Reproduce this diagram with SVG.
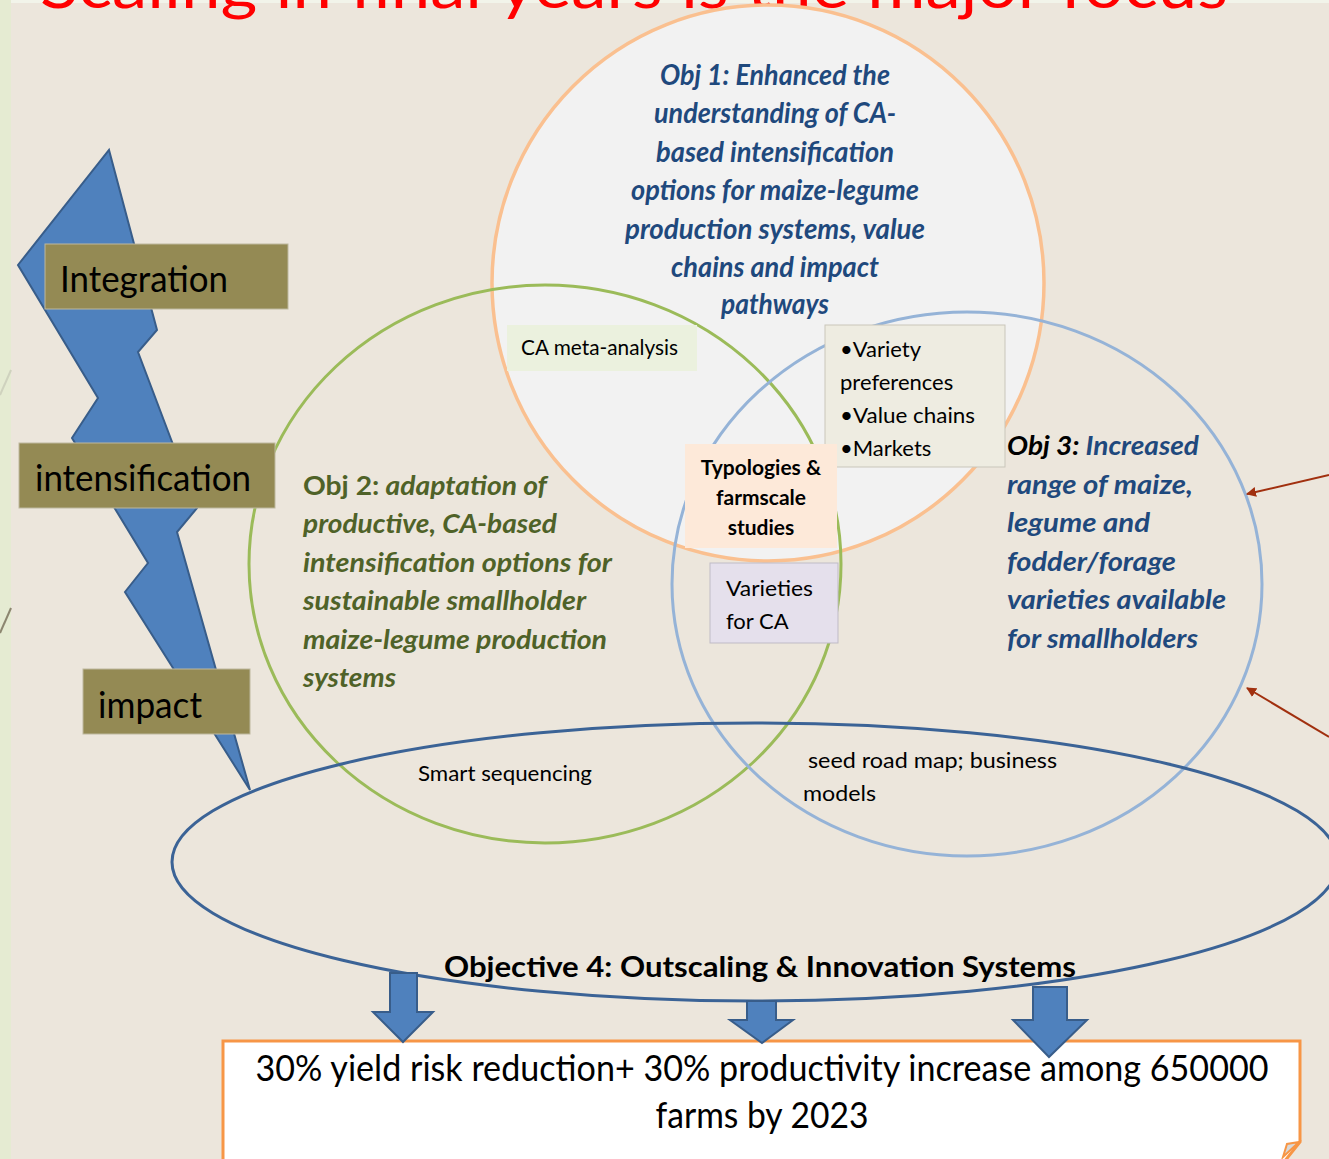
<svg xmlns="http://www.w3.org/2000/svg" width="1329" height="1159" viewBox="0 0 1329 1159">
  <style>
    .sans { font-family: Lato, "Open Sans", "Liberation Sans", sans-serif; }
    .tag { fill: #948A54; stroke: #BDB89E; stroke-width: 1; }
    .tagtxt { font-size: 36px; fill: #000; }
    .obj1 { font-size: 28px; font-weight: bold; font-style: italic; fill: #1F497D; }
    .obj2 { font-size: 27px; font-weight: bold; font-style: italic; fill: #4F6228; }
    .obj3 { font-size: 27px; font-weight: bold; font-style: italic; fill: #1F497D; }
    .small { font-size: 22px; fill: #000; }
    .blk { fill: #4F81BD; stroke: #385D8A; stroke-width: 2; stroke-linejoin: miter; }
    .red { stroke: #A1300F; stroke-width: 2; fill: none; }
  </style>
  <defs>
    <marker id="redhead" markerWidth="10" markerHeight="10" refX="9" refY="5" orient="auto" markerUnits="userSpaceOnUse" viewBox="0 0 10 10">
      <path d="M0,0 L10,5 L0,10 Z" fill="#A1300F"/>
    </marker>
  </defs>

  <!-- backdrop -->
  <rect x="0" y="0" width="1329" height="1159" fill="#ECE6DC"/>
  <rect x="0" y="0" width="1329" height="3" fill="#F2F4EA"/>
  <rect x="0" y="0" width="11" height="1159" fill="#E5EBD2"/>
  <line x1="0" y1="395" x2="11" y2="370" stroke="#CFD2BE" stroke-width="2"/>
  <line x1="0" y1="633" x2="11" y2="608" stroke="#8C8670" stroke-width="2"/>

  <!-- slide title, partly above the frame -->
  <text class="sans" x="40" y="8" font-size="62" fill="#FF0000" textLength="1188" lengthAdjust="spacingAndGlyphs">Scaling in final years is the major focus</text>

  <!-- lightning bolt -->
  <g id="bolt">
    <polygon class="blk" points="109,150 157,330 138,352 197,508 177,532 250,790 173,668 125,592 148,563 72,438 98,398 18,265"/>
  </g>

  <!-- objective 1 circle -->
  <g id="obj1">
    <ellipse cx="768" cy="283" rx="276" ry="278" fill="#F2F2F2" stroke="#FAC090" stroke-width="3.5"/>
    <g class="sans obj1" text-anchor="middle">
      <text x="775" y="85" textLength="230" lengthAdjust="spacingAndGlyphs">Obj 1: Enhanced the</text>
      <text x="775" y="123" textLength="242" lengthAdjust="spacingAndGlyphs">understanding of CA-</text>
      <text x="775" y="162" textLength="238" lengthAdjust="spacingAndGlyphs">based intensification</text>
      <text x="775" y="200" textLength="288" lengthAdjust="spacingAndGlyphs">options for maize-legume</text>
      <text x="775" y="239" textLength="300" lengthAdjust="spacingAndGlyphs">production systems, value</text>
      <text x="775" y="277" textLength="208" lengthAdjust="spacingAndGlyphs">chains and impact</text>
      <text x="775" y="314" textLength="108" lengthAdjust="spacingAndGlyphs">pathways</text>
    </g>
  </g>

  <!-- objective 2 circle -->
  <g id="obj2">
    <ellipse cx="545" cy="564" rx="296" ry="279" fill="none" stroke="#9BBB59" stroke-width="3"/>
    <g class="sans obj2">
      <text x="303" y="495" textLength="244" lengthAdjust="spacingAndGlyphs"><tspan font-style="normal">Obj 2:</tspan> adaptation of</text>
      <text x="303" y="533" textLength="254" lengthAdjust="spacingAndGlyphs">productive, CA-based</text>
      <text x="303" y="572" textLength="309" lengthAdjust="spacingAndGlyphs">intensification options for</text>
      <text x="303" y="610" textLength="283" lengthAdjust="spacingAndGlyphs">sustainable smallholder</text>
      <text x="303" y="649" textLength="304" lengthAdjust="spacingAndGlyphs">maize-legume production</text>
      <text x="303" y="687" textLength="93" lengthAdjust="spacingAndGlyphs">systems</text>
    </g>
  </g>

  <!-- objective 3 circle -->
  <g id="obj3">
    <ellipse cx="967" cy="584" rx="295" ry="272" fill="none" stroke="#95B3D7" stroke-width="3"/>
    <g class="sans obj3">
      <text x="1007" y="455" textLength="192" lengthAdjust="spacingAndGlyphs"><tspan fill="#000">Obj 3:</tspan> Increased</text>
      <text x="1007" y="494" textLength="186" lengthAdjust="spacingAndGlyphs">range of maize,</text>
      <text x="1007" y="532" textLength="143" lengthAdjust="spacingAndGlyphs">legume and</text>
      <text x="1007" y="571" textLength="169" lengthAdjust="spacingAndGlyphs">fodder/forage</text>
      <text x="1007" y="609" textLength="219" lengthAdjust="spacingAndGlyphs">varieties available</text>
      <text x="1007" y="648" textLength="191" lengthAdjust="spacingAndGlyphs">for smallholders</text>
    </g>
  </g>

  <!-- overlap labels -->
  <g id="meta">
    <rect x="507" y="325" width="190" height="46" fill="#EBF1DE"/>
    <text class="sans small" x="521" y="355" font-size="21" textLength="157" lengthAdjust="spacingAndGlyphs">CA meta-analysis</text>
  </g>
  <g id="variety">
    <rect x="825" y="325" width="180" height="142" fill="#EEECE1" stroke="#C9C6BA" stroke-width="1"/>
    <g class="sans small">
      <text x="840" y="357">•Variety</text>
      <text x="840" y="390">preferences</text>
      <text x="840" y="423" textLength="135" lengthAdjust="spacingAndGlyphs">•Value chains</text>
      <text x="840" y="456">•Markets</text>
    </g>
  </g>
  <g id="typologies">
    <rect x="685" y="444" width="152" height="104" fill="#FDE9D9"/>
    <g class="sans" font-size="21" font-weight="bold" text-anchor="middle">
      <text x="761" y="475">Typologies &amp;</text>
      <text x="761" y="505">farmscale</text>
      <text x="761" y="535">studies</text>
    </g>
  </g>
  <g id="varieties">
    <rect x="710" y="563" width="128" height="80" fill="#E5E0EC" stroke="#BFBBC6" stroke-width="1"/>
    <g class="sans small">
      <text x="726" y="596" textLength="87" lengthAdjust="spacingAndGlyphs">Varieties</text>
      <text x="726" y="629">for CA</text>
    </g>
  </g>

  <!-- objective 4 ellipse -->
  <g id="obj4">
    <ellipse cx="755" cy="862" rx="583" ry="139" fill="none" stroke="#3B6396" stroke-width="3"/>
    <text class="sans" x="418" y="781" font-size="21" textLength="174" lengthAdjust="spacingAndGlyphs">Smart sequencing</text>
    <text class="sans" x="808" y="768" font-size="21" textLength="249" lengthAdjust="spacingAndGlyphs">seed road map; business</text>
    <text class="sans" x="803" y="801" font-size="21" textLength="73" lengthAdjust="spacingAndGlyphs">models</text>
    <text class="sans" x="444" y="977" font-size="28" font-weight="bold" textLength="632" lengthAdjust="spacingAndGlyphs">Objective 4: Outscaling  &amp; Innovation Systems</text>
  </g>

  <!-- stage tags -->
  <g id="tag-integration">
    <rect class="tag" x="45" y="244" width="243" height="65"/>
    <text class="sans tagtxt" x="60" y="292" textLength="168" lengthAdjust="spacingAndGlyphs">Integration</text>
  </g>
  <g id="tag-intensification">
    <rect class="tag" x="19" y="443" width="256" height="65"/>
    <text class="sans tagtxt" x="35" y="491" textLength="216" lengthAdjust="spacingAndGlyphs">intensification</text>
  </g>
  <g id="tag-impact">
    <rect class="tag" x="83" y="669" width="167" height="65"/>
    <text class="sans tagtxt" x="98" y="718" textLength="104" lengthAdjust="spacingAndGlyphs">impact</text>
  </g>

  <!-- outcome box -->
  <g id="outcome">
    <path d="M223,1041 H1300 V1142 L1284,1162 H223 Z" fill="#FFFFFF" stroke="#F79646" stroke-width="3"/>
    <path d="M1299,1142 L1287,1144 L1283,1157 Z" fill="#D9D9D9" stroke="#F79646" stroke-width="2"/>
    <g class="sans" font-size="36" text-anchor="middle">
      <text x="762" y="1081" textLength="1013" lengthAdjust="spacingAndGlyphs">30% yield risk reduction+ 30% productivity increase among 650000</text>
      <text x="762" y="1128" textLength="213" lengthAdjust="spacingAndGlyphs">farms by 2023</text>
    </g>
  </g>

  <!-- connectors -->
  <g id="connectors">
    <polygon class="blk" points="390,973 417,973 417,1012 433,1012 403,1042 373,1012 390,1012"/>
    <polygon class="blk" points="747,1001 776,1001 776,1020 793,1020 762,1043 730,1020 747,1020"/>
    <polygon class="blk" points="1033,987 1067,987 1067,1020 1087,1020 1049,1057 1013,1020 1033,1020"/>
    <line class="red" x1="1329" y1="475" x2="1247" y2="494" marker-end="url(#redhead)"/>
    <line class="red" x1="1329" y1="737" x2="1247" y2="688" marker-end="url(#redhead)"/>
  </g>
</svg>
